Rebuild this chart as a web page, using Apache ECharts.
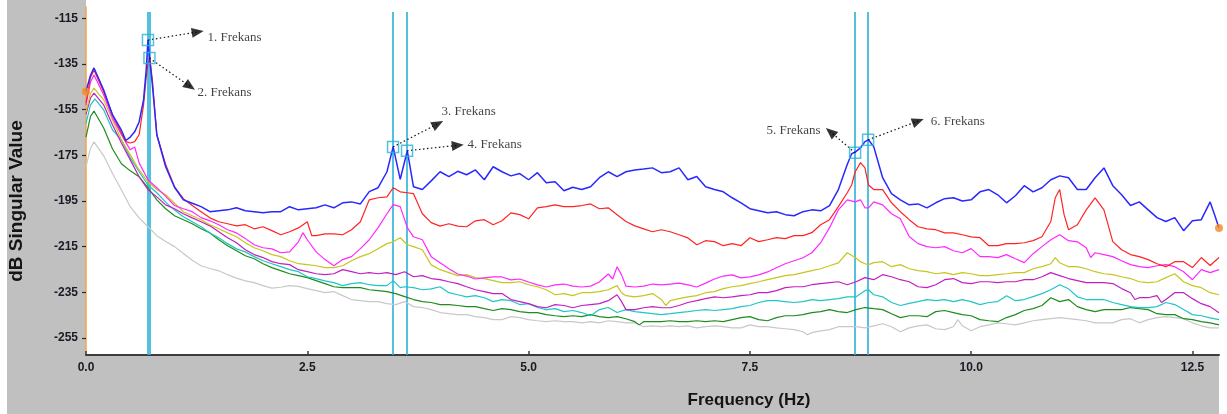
<!DOCTYPE html>
<html><head><meta charset="utf-8">
<script src="https://cdn.jsdelivr.net/npm/echarts@6/dist/echarts.min.js"></script>
<style>html,body{margin:0;padding:0;background:#fff}#c{width:1227px;height:414px}</style>
</head><body><div id="c"></div>
<script>
// ---------- DATA ----------
const xTicks = [0, 2.5, 5, 7.5, 10, 12.5];
const yTicks = [-255, -235, -215, -195, -175, -155, -135, -115];
const modeLabels = ['1. Frekans', '2. Frekans', '3. Frekans', '4. Frekans', '5. Frekans', '6. Frekans'];
const modeFreqs = [0.700, 0.717, 3.469, 3.627, 8.689, 8.836];
const modePeakDb = [-124.5, -132.4, -171.3, -173.0, -173.9, -168.2];

const blue = [[0,-147],[0.05,-140],[0.09,-136.7],[0.2,-146.4],[0.3,-157.3],[0.4,-164],[0.45,-168.5],[0.5,-167],[0.55,-164.7],[0.6,-160.4],[0.65,-150.7],[0.68,-137.6],[0.7,-124.5],[0.72,-133],[0.75,-144.2],[0.8,-166],[0.9,-180],[1.0,-189],[1.1,-194.5],[1.2,-196],[1.3,-197.5],[1.4,-199.7],[1.5,-199.3],[1.6,-198.9],[1.7,-198],[1.8,-199.3],[1.9,-199.7],[2.0,-200.2],[2.1,-199.7],[2.2,-199.7],[2.3,-197.5],[2.4,-198.9],[2.5,-198.4],[2.6,-198],[2.7,-196.7],[2.8,-198],[2.9,-195.8],[3.0,-195.4],[3.1,-196.3],[3.2,-190.9],[3.3,-189.2],[3.4,-182.2],[3.47,-171.3],[3.55,-185.5],[3.63,-173],[3.7,-188.8],[3.8,-190],[3.9,-186.2],[4.0,-182.2],[4.1,-184.3],[4.2,-182],[4.3,-183.5],[4.4,-181.4],[4.5,-185.7],[4.6,-180],[4.7,-182.2],[4.8,-184],[4.9,-183],[5.0,-185.7],[5.1,-182.6],[5.2,-187],[5.3,-186.6],[5.4,-190.5],[5.5,-189],[5.6,-190],[5.7,-188.8],[5.8,-184.8],[5.9,-182.2],[6.0,-184.3],[6.1,-182.2],[6.2,-181.4],[6.3,-181],[6.4,-180.5],[6.5,-182.6],[6.6,-182.2],[6.7,-180.5],[6.8,-185.7],[6.9,-184.3],[7.0,-188.8],[7.1,-190],[7.2,-191],[7.3,-193.6],[7.4,-195.8],[7.5,-198.4],[7.6,-199.3],[7.7,-200.2],[7.8,-199.7],[7.9,-201],[8.0,-201.5],[8.1,-199.7],[8.2,-198.9],[8.3,-199.3],[8.4,-197],[8.5,-190],[8.6,-179],[8.65,-174.3],[8.69,-173.6],[8.75,-171.7],[8.8,-169],[8.84,-168.2],[8.9,-171.3],[9.0,-184.8],[9.1,-191.8],[9.2,-194.5],[9.3,-196.7],[9.4,-196.3],[9.5,-198],[9.6,-195.8],[9.7,-194],[9.8,-193.6],[9.9,-195],[10.0,-194.5],[10.1,-191],[10.2,-190],[10.3,-192.3],[10.4,-195.8],[10.5,-192.7],[10.6,-188.3],[10.7,-191],[10.8,-189.2],[10.9,-185.7],[11.0,-184],[11.1,-184.8],[11.2,-190],[11.3,-190],[11.4,-184.8],[11.5,-180.5],[11.6,-188.3],[11.7,-192.3],[11.8,-197],[11.9,-195.4],[12.0,-198.9],[12.1,-202.3],[12.2,-204],[12.3,-202.3],[12.4,-208],[12.5,-203.7],[12.6,-203.2],[12.7,-195.4],[12.75,-201],[12.8,-206.8]];

const red = [[0,-152],[0.05,-141],[0.09,-137.6],[0.2,-147.3],[0.3,-157.3],[0.4,-165.2],[0.45,-169],[0.5,-169.6],[0.55,-169],[0.6,-166],[0.65,-153],[0.68,-141],[0.7,-135],[0.72,-132],[0.75,-142],[0.8,-166],[0.9,-179],[1.0,-188.8],[1.1,-194],[1.2,-197],[1.3,-199.7],[1.4,-202.4],[1.5,-204.1],[1.6,-205],[1.7,-205.9],[1.8,-205.4],[1.9,-207.2],[2.0,-206.3],[2.1,-208],[2.2,-209.8],[2.3,-208.5],[2.4,-206.8],[2.5,-204.1],[2.55,-210.2],[2.6,-210.2],[2.7,-209.4],[2.8,-209.4],[2.9,-209.8],[3.0,-207.6],[3.1,-204.1],[3.2,-194.5],[3.3,-193.6],[3.4,-193.2],[3.47,-189.2],[3.55,-191],[3.63,-191.4],[3.7,-191.8],[3.8,-200.6],[3.9,-204.5],[4.0,-206],[4.1,-205],[4.2,-206],[4.3,-206.3],[4.4,-203.7],[4.5,-203.2],[4.6,-205.4],[4.7,-203.7],[4.8,-200.2],[4.9,-201],[5.0,-202.8],[5.1,-198],[5.2,-197.5],[5.3,-196.7],[5.4,-197.5],[5.5,-197.5],[5.6,-197],[5.7,-196.3],[5.8,-198.4],[5.9,-198],[6.0,-201],[6.1,-204],[6.2,-205.9],[6.3,-207.2],[6.4,-208.5],[6.5,-207.6],[6.6,-208.5],[6.7,-209.8],[6.8,-211.2],[6.9,-214.2],[7.0,-212.4],[7.1,-212.8],[7.2,-214.6],[7.3,-213.7],[7.4,-214.6],[7.5,-211.1],[7.6,-212.8],[7.7,-212],[7.8,-211.1],[7.9,-211.5],[8.0,-210.2],[8.1,-210.2],[8.2,-208.9],[8.3,-205.4],[8.4,-203.2],[8.5,-197.5],[8.6,-191.4],[8.65,-188],[8.69,-182.2],[8.75,-178.2],[8.8,-180.5],[8.84,-188],[8.9,-190],[9.0,-190],[9.1,-195.8],[9.2,-199.7],[9.3,-203.2],[9.4,-206.3],[9.5,-207.2],[9.6,-207.6],[9.7,-209],[9.8,-209],[9.9,-209.8],[10.0,-210.7],[10.1,-211.1],[10.2,-214.6],[10.3,-214.6],[10.4,-213.7],[10.5,-213.7],[10.6,-213.3],[10.7,-212.4],[10.8,-210.7],[10.9,-204],[10.95,-193.6],[11.0,-190],[11.05,-201],[11.1,-207.6],[11.2,-205.4],[11.3,-198.9],[11.4,-193.6],[11.5,-198.9],[11.6,-212.8],[11.7,-216.4],[11.8,-218.5],[11.9,-219.4],[12.0,-220.7],[12.1,-222.5],[12.2,-223.8],[12.3,-221.6],[12.4,-221.6],[12.5,-224.2],[12.6,-219.8],[12.7,-223.3],[12.8,-219.8]];

const magenta = [[0,-153],[0.05,-143],[0.09,-139.8],[0.2,-148.6],[0.3,-158.6],[0.4,-166],[0.5,-172.6],[0.55,-171.3],[0.6,-178.3],[0.7,-185.7],[0.8,-189.2],[0.9,-193],[1.0,-197],[1.1,-198.4],[1.2,-199.7],[1.3,-202.3],[1.4,-203.7],[1.5,-205.4],[1.6,-207.6],[1.7,-209],[1.8,-211.5],[1.9,-214.2],[2.0,-215.5],[2.1,-216],[2.2,-217.7],[2.3,-217.3],[2.4,-212.9],[2.45,-208.9],[2.5,-212],[2.6,-217.3],[2.7,-220.7],[2.8,-223.4],[2.9,-220.7],[3.0,-219.4],[3.1,-215.9],[3.2,-212],[3.3,-206.7],[3.4,-200.6],[3.47,-196.6],[3.55,-197.5],[3.63,-206.7],[3.7,-210.7],[3.8,-212],[3.9,-219.4],[4.0,-222.1],[4.1,-224.7],[4.2,-227],[4.3,-227.9],[4.4,-229.2],[4.5,-228.7],[4.6,-228.3],[4.7,-228.3],[4.8,-229.6],[4.9,-229.2],[5.0,-230.5],[5.1,-231.8],[5.2,-232.7],[5.3,-231.8],[5.4,-231.4],[5.5,-232.3],[5.6,-232.7],[5.7,-232.3],[5.8,-230.5],[5.9,-227],[5.95,-229.2],[6.0,-223.8],[6.05,-227.4],[6.1,-232.3],[6.2,-232.7],[6.3,-232.3],[6.4,-231.4],[6.5,-231.8],[6.6,-231.4],[6.7,-231],[6.8,-231.8],[6.9,-232.7],[7.0,-231],[7.1,-229.2],[7.2,-227.9],[7.3,-227.4],[7.4,-228.7],[7.5,-228.3],[7.6,-227.4],[7.7,-226.1],[7.8,-224.3],[7.9,-222.5],[8.0,-221.2],[8.1,-219.9],[8.2,-217.7],[8.3,-213.3],[8.4,-206.7],[8.5,-198.9],[8.6,-194.5],[8.69,-195.4],[8.75,-194.5],[8.8,-198],[8.84,-198],[8.9,-195.4],[9.0,-196.7],[9.1,-200.6],[9.2,-202.8],[9.3,-210.6],[9.4,-213.7],[9.5,-215],[9.6,-215.5],[9.7,-215],[9.8,-216.8],[9.9,-217.7],[10.0,-215.9],[10.1,-219.4],[10.2,-219.4],[10.3,-219.8],[10.4,-218.5],[10.5,-220.3],[10.6,-222],[10.7,-218.1],[10.8,-215],[10.9,-212],[11.0,-209.8],[11.1,-212.4],[11.2,-212.9],[11.3,-215.5],[11.35,-219.8],[11.4,-217.7],[11.5,-218.5],[11.6,-219.4],[11.7,-221.2],[11.8,-222.9],[11.9,-223.8],[12.0,-224.2],[12.1,-223.4],[12.2,-222.9],[12.3,-223.8],[12.4,-226],[12.5,-229.5],[12.6,-225.1],[12.7,-226.4],[12.8,-225.1]];

const yellow = [[0,-156],[0.05,-148],[0.09,-145.5],[0.2,-150.7],[0.3,-159.5],[0.4,-168.2],[0.5,-174.8],[0.6,-181.4],[0.7,-186.6],[0.8,-190],[0.9,-192.3],[1.0,-196],[1.1,-199.7],[1.2,-201.5],[1.3,-203.2],[1.4,-205.4],[1.5,-207.2],[1.6,-209],[1.7,-210.7],[1.8,-213.3],[1.9,-215.5],[2.0,-216.8],[2.1,-218.5],[2.2,-219.4],[2.3,-221.2],[2.4,-222.5],[2.5,-222.9],[2.6,-223.4],[2.7,-224.2],[2.8,-224.2],[2.9,-223.4],[3.0,-221.2],[3.1,-219.4],[3.2,-218.1],[3.3,-215.9],[3.4,-213.7],[3.47,-212.9],[3.55,-211.1],[3.63,-214.2],[3.7,-215],[3.8,-216.4],[3.9,-223],[4.0,-225.1],[4.1,-226.4],[4.2,-227.7],[4.3,-227.3],[4.4,-228.6],[4.5,-229],[4.6,-229.9],[4.7,-230.8],[4.8,-230.8],[4.9,-230.4],[5.0,-231.7],[5.1,-232.6],[5.2,-233.9],[5.3,-236.1],[5.4,-235.6],[5.5,-236.5],[5.6,-235.2],[5.7,-235.2],[5.8,-234.7],[5.9,-233.9],[6.0,-232.1],[6.05,-235.2],[6.1,-236.5],[6.2,-237],[6.3,-236.5],[6.4,-235.6],[6.5,-238.2],[6.55,-240.8],[6.6,-238.7],[6.7,-237.8],[6.8,-237],[6.9,-236.5],[7.0,-235.2],[7.1,-234.7],[7.2,-233.4],[7.3,-232.6],[7.4,-232.1],[7.5,-231.2],[7.6,-230.4],[7.7,-229.5],[7.8,-228.6],[7.9,-227.7],[8.0,-227.3],[8.1,-226.4],[8.2,-225.5],[8.3,-224.7],[8.4,-223.4],[8.5,-222.1],[8.6,-217.7],[8.69,-219.8],[8.75,-221.6],[8.8,-222.5],[8.84,-222.9],[8.9,-222],[9.0,-221.6],[9.1,-223.8],[9.2,-222.9],[9.3,-224.7],[9.4,-225.5],[9.5,-226],[9.6,-226.9],[9.7,-226.4],[9.8,-227.3],[9.9,-226.4],[10.0,-226.9],[10.1,-227.7],[10.2,-227.7],[10.3,-227.3],[10.4,-226.9],[10.5,-226.4],[10.6,-226.4],[10.7,-224.7],[10.8,-223.8],[10.9,-222.5],[10.95,-219.8],[11.0,-222.1],[11.1,-223.8],[11.2,-223.8],[11.3,-224.7],[11.4,-226],[11.5,-226.9],[11.6,-227.3],[11.7,-228.2],[11.8,-229],[11.9,-230.4],[12.0,-230.8],[12.1,-230.4],[12.2,-228.6],[12.3,-226.9],[12.4,-230.4],[12.5,-232.1],[12.6,-233],[12.7,-235.2],[12.8,-236.1]];

const purple = [[0,-157],[0.05,-150],[0.09,-147.7],[0.2,-152.9],[0.3,-161.7],[0.4,-169.6],[0.5,-177],[0.6,-184.4],[0.7,-190.1],[0.8,-193.2],[0.9,-196.7],[1.0,-198.4],[1.1,-200.6],[1.2,-202.4],[1.3,-204.1],[1.4,-205.9],[1.5,-208.5],[1.6,-211.1],[1.7,-213.3],[1.8,-216.4],[1.9,-218.5],[2.0,-219.8],[2.1,-221.6],[2.2,-222.5],[2.3,-222.9],[2.4,-225.1],[2.5,-226],[2.6,-226.9],[2.7,-227.3],[2.8,-226.9],[2.9,-225.1],[3.0,-226],[3.1,-226.9],[3.2,-226.4],[3.3,-226.9],[3.4,-226.4],[3.5,-227.3],[3.6,-226],[3.7,-228.2],[3.8,-227.7],[3.9,-229],[4.0,-229.5],[4.1,-230.4],[4.2,-231.2],[4.3,-232.6],[4.4,-233.9],[4.5,-234.7],[4.6,-235.6],[4.7,-235.6],[4.8,-238.2],[4.9,-239.1],[5.0,-240],[5.1,-241.3],[5.2,-241.8],[5.3,-240.4],[5.4,-240.8],[5.5,-241.8],[5.6,-240.8],[5.7,-240.4],[5.8,-240],[5.9,-238.7],[6.0,-236.1],[6.05,-239.1],[6.1,-242.6],[6.2,-242.6],[6.3,-241.8],[6.4,-241.3],[6.5,-241.8],[6.6,-241.8],[6.7,-240.8],[6.8,-239.5],[6.9,-238.7],[7.0,-237.8],[7.1,-237],[7.2,-237.4],[7.3,-237],[7.4,-236.5],[7.5,-236.1],[7.6,-235.2],[7.7,-235.2],[7.8,-234.3],[7.9,-233],[8.0,-232.6],[8.1,-232.6],[8.2,-231.7],[8.3,-231.2],[8.4,-230.8],[8.5,-230.4],[8.6,-231.7],[8.7,-230.4],[8.8,-228.6],[8.9,-229.5],[9.0,-227.3],[9.1,-228.2],[9.2,-229.5],[9.3,-230.4],[9.4,-232.6],[9.5,-233],[9.6,-231.7],[9.7,-229.5],[9.8,-229],[9.9,-230.8],[10.0,-231.2],[10.1,-230.4],[10.2,-230.4],[10.3,-230.8],[10.4,-230.4],[10.5,-230.4],[10.6,-229.5],[10.7,-229.5],[10.8,-228.2],[10.9,-226.4],[11.0,-227.7],[11.1,-229],[11.2,-229.9],[11.3,-230.8],[11.4,-230.8],[11.5,-230.8],[11.6,-231.2],[11.7,-233.4],[11.8,-235.2],[11.85,-238.2],[11.9,-237.4],[12.0,-237.4],[12.1,-236.5],[12.15,-239.5],[12.2,-238.2],[12.3,-235.2],[12.4,-235.2],[12.5,-237.8],[12.6,-240],[12.7,-241.3],[12.8,-244]];

const cyan = [[0,-161],[0.05,-153],[0.1,-150.3],[0.2,-155.1],[0.3,-163.9],[0.4,-168.2],[0.5,-176],[0.6,-182.2],[0.7,-188],[0.8,-191.4],[0.9,-195.5],[1.0,-199],[1.1,-201.9],[1.2,-204.1],[1.3,-206.3],[1.4,-209],[1.5,-211.1],[1.6,-213.7],[1.7,-216],[1.8,-217.3],[1.9,-219.4],[2.0,-221.2],[2.1,-222.5],[2.2,-223.8],[2.3,-225.1],[2.4,-226],[2.5,-228.2],[2.6,-229],[2.7,-230],[2.8,-230.8],[2.9,-232.1],[3.0,-231.2],[3.1,-230.8],[3.2,-231.7],[3.3,-232.1],[3.4,-232.1],[3.47,-229.9],[3.55,-233],[3.6,-232.6],[3.7,-233],[3.8,-233.9],[3.9,-233.5],[4.0,-232.6],[4.1,-235.2],[4.2,-236.1],[4.3,-237],[4.4,-236.5],[4.5,-237.4],[4.6,-239.1],[4.7,-238.2],[4.8,-238.7],[4.9,-240.4],[5.0,-240],[5.1,-241.7],[5.2,-242.6],[5.3,-242.2],[5.4,-243.5],[5.5,-243],[5.6,-243.9],[5.7,-245.3],[5.8,-242.6],[5.9,-241.7],[6.0,-243.9],[6.1,-242.6],[6.2,-243.5],[6.3,-243.9],[6.4,-244.4],[6.5,-244.8],[6.6,-244.4],[6.7,-243.9],[6.8,-243.5],[6.9,-243],[7.0,-242.6],[7.1,-243],[7.2,-242.6],[7.3,-242.2],[7.4,-241.3],[7.5,-240.8],[7.6,-239.5],[7.7,-238.7],[7.8,-238.7],[7.9,-239.1],[8.0,-239.5],[8.1,-239.1],[8.2,-238.2],[8.3,-238.7],[8.4,-238.2],[8.5,-237.8],[8.6,-237],[8.7,-237],[8.8,-234.3],[8.84,-233.9],[8.9,-236.1],[9.0,-237],[9.1,-239.5],[9.2,-240.8],[9.3,-239.9],[9.4,-239.1],[9.5,-238.2],[9.6,-238.7],[9.7,-238.2],[9.8,-239.1],[9.9,-238.2],[10.0,-239.1],[10.1,-240.4],[10.2,-239.5],[10.3,-239.1],[10.4,-236.5],[10.5,-238.7],[10.6,-238.2],[10.7,-236.9],[10.8,-235.6],[10.9,-233.9],[11.0,-231.7],[11.1,-233.5],[11.2,-237],[11.3,-238.2],[11.4,-238.2],[11.5,-238.2],[11.6,-239.5],[11.7,-240.4],[11.8,-241.3],[11.9,-241.7],[12.0,-241.7],[12.1,-241.3],[12.2,-239.5],[12.3,-240.4],[12.4,-242.6],[12.5,-244.8],[12.6,-245.3],[12.7,-246.2],[12.8,-247]];

const green = [[0,-167],[0.05,-158],[0.09,-155.6],[0.2,-163],[0.3,-172.2],[0.4,-178.7],[0.5,-181.8],[0.6,-184.4],[0.7,-189.2],[0.8,-194.5],[0.9,-198.4],[1.0,-201.5],[1.1,-203.2],[1.2,-205],[1.3,-207.2],[1.4,-209],[1.5,-212],[1.6,-214.6],[1.7,-216.8],[1.8,-219],[1.9,-220.3],[2.0,-222.5],[2.1,-224.2],[2.2,-225.5],[2.3,-226.9],[2.4,-227.7],[2.5,-228.6],[2.6,-229.9],[2.7,-231.2],[2.8,-232.6],[2.9,-233],[3.0,-233],[3.1,-233],[3.2,-233.9],[3.3,-234.3],[3.4,-234.7],[3.5,-235.6],[3.6,-236.9],[3.7,-238.2],[3.8,-239.1],[3.9,-239.5],[4.0,-240.4],[4.1,-240.4],[4.2,-240.8],[4.3,-241.3],[4.4,-241.3],[4.5,-242.2],[4.6,-243],[4.7,-242.2],[4.8,-242.6],[4.9,-243.5],[5.0,-243.9],[5.1,-243.9],[5.2,-244.8],[5.3,-245.3],[5.4,-245.7],[5.5,-245.3],[5.6,-245.7],[5.7,-244.8],[5.8,-245.7],[5.9,-246.1],[6.0,-245.7],[6.1,-246.6],[6.2,-247.9],[6.25,-249.3],[6.3,-247.9],[6.4,-247.9],[6.5,-247.9],[6.6,-247.5],[6.7,-247.9],[6.8,-247.9],[6.9,-247.5],[7.0,-247.9],[7.1,-247.5],[7.2,-247.9],[7.3,-247],[7.4,-246.1],[7.5,-245.7],[7.6,-247],[7.7,-247.5],[7.8,-246.1],[7.9,-245.3],[8.0,-245.3],[8.1,-244.8],[8.2,-243.9],[8.3,-243.5],[8.4,-242.6],[8.5,-243.5],[8.6,-243.9],[8.7,-242.6],[8.8,-241.7],[8.9,-242.2],[9.0,-242.6],[9.1,-244.4],[9.2,-246.1],[9.3,-245.3],[9.4,-245.3],[9.5,-245.7],[9.6,-243.5],[9.7,-243],[9.8,-243.9],[9.9,-244.8],[10.0,-245.3],[10.1,-247],[10.2,-247.5],[10.3,-247.9],[10.4,-246.1],[10.5,-244.8],[10.6,-243],[10.7,-242.2],[10.8,-240.8],[10.9,-237.4],[11.0,-239.1],[11.1,-238.2],[11.2,-241.3],[11.3,-242.6],[11.4,-243.5],[11.5,-242.6],[11.6,-242.6],[11.7,-242.6],[11.8,-241.7],[11.9,-242.2],[12.0,-242.6],[12.1,-244.4],[12.2,-244.8],[12.3,-244.8],[12.4,-246.6],[12.5,-247],[12.6,-247.9],[12.7,-248.4],[12.8,-249.3]];

const gray = [[0,-180],[0.05,-172],[0.09,-169.1],[0.2,-175.2],[0.3,-183],[0.4,-190.1],[0.5,-197.5],[0.6,-202.4],[0.7,-206.3],[0.8,-210.2],[0.9,-212.8],[1.0,-215],[1.1,-218],[1.2,-221],[1.3,-223.4],[1.4,-224.6],[1.5,-225.6],[1.6,-227.3],[1.7,-228.8],[1.8,-230],[1.9,-230.8],[2.0,-232.1],[2.1,-233.2],[2.2,-232.8],[2.3,-232.1],[2.4,-232.4],[2.5,-233.4],[2.6,-234.3],[2.7,-235.2],[2.8,-234.7],[2.9,-236.5],[3.0,-238.2],[3.1,-238.7],[3.2,-239.1],[3.3,-239.1],[3.4,-240],[3.5,-240.4],[3.6,-239.1],[3.7,-241.3],[3.8,-241.7],[3.9,-242.6],[4.0,-243.9],[4.1,-244.4],[4.2,-244.8],[4.3,-244.8],[4.4,-245.7],[4.5,-246.1],[4.6,-247],[4.7,-247],[4.8,-245.7],[4.9,-246.1],[5.0,-247],[5.1,-247.5],[5.2,-247.9],[5.3,-247.5],[5.4,-247.9],[5.5,-247.9],[5.6,-248.4],[5.7,-247.9],[5.8,-248.4],[5.9,-247.5],[6.0,-247.9],[6.1,-248.4],[6.2,-248.4],[6.3,-250.1],[6.4,-249.7],[6.5,-250.1],[6.6,-249.7],[6.7,-250.1],[6.8,-249.7],[6.9,-250.6],[7.0,-250.1],[7.1,-249.7],[7.2,-250.1],[7.3,-250.6],[7.4,-250.6],[7.5,-249.3],[7.6,-250.1],[7.7,-250.1],[7.8,-250.6],[7.9,-251],[8.0,-251.4],[8.1,-252.3],[8.15,-253.6],[8.2,-252.7],[8.3,-251.9],[8.4,-251.4],[8.5,-250.1],[8.6,-250.1],[8.7,-250.1],[8.8,-250.6],[8.9,-249.7],[9.0,-248.8],[9.1,-250.1],[9.2,-252.3],[9.3,-250.6],[9.4,-249.7],[9.5,-249.3],[9.6,-251],[9.7,-251.4],[9.8,-250.1],[9.85,-247],[9.9,-249.7],[10.0,-251.9],[10.1,-250.1],[10.2,-249.3],[10.3,-248.4],[10.4,-248.8],[10.5,-249.3],[10.6,-248.4],[10.7,-247.5],[10.8,-247],[10.9,-246.6],[11.0,-246.1],[11.1,-246.6],[11.2,-247],[11.3,-247.5],[11.4,-248.4],[11.5,-248.4],[11.6,-248.4],[11.7,-247],[11.8,-246.6],[11.9,-248.4],[12.0,-247],[12.1,-246.1],[12.2,-245.7],[12.3,-246.1],[12.4,-246.6],[12.5,-248.4],[12.6,-249.7],[12.7,-250.6],[12.8,-250.6]];

// ---------- LAYOUT / ANNOTATIONS (positions in data units) ----------
const Y_MIN = -262.5, Y_MAX = -110, X_MIN = 0, X_MAX = 12.8;
const MODE_LINE_TOP = -112.2;
const annHead = [[1.262,-120.9],[1.175,-144.8],[3.975,-161.2],[4.2,-170.6],[8.41,-164.7],[9.40,-160.0]];
const annText = [[1.367,-123.6],[1.254,-147.7],[4.011,-156],[4.305,-170.4],[8.305,-164.3],[9.537,-160.4]];
const annSide = ['right','right','right','right','left','right'];

const FONT = '"Liberation Sans", Arial, Helvetica, sans-serif';
const SERIF = '"Liberation Serif", "Times New Roman", serif';
const MODE_COLOR = '#2ab2d6';

function lineSeries(name, data, color, width) {
  return {
    name, type: 'line', data, showSymbol: false, symbol: 'none',
    lineStyle: { color, width }, itemStyle: { color }, silent: true, z: 3
  };
}

const peaks = modeFreqs.map((f, i) => [f, modePeakDb[i]]);

const option = {
  animation: false,
  backgroundColor: '#c0c0c0',
  graphic: [
    { type: 'rect', shape: { x: 0, y: 0, width: 7, height: 414 }, style: { fill: '#fff' }, z: -10 },
    { type: 'rect', shape: { x: 1219, y: 0, width: 8, height: 414 }, style: { fill: '#fff' }, z: -10 },
    { type: 'rect', shape: { x: 86, y: 0, width: 1133, height: 8 }, style: { fill: '#fff' }, z: -10 },
    { type: 'text', x: 17, y: 201, rotation: Math.PI / 2,
      style: { text: 'dB Singular Value', font: 'bold 19px ' + FONT, fill: '#141414', textAlign: 'center', textVerticalAlign: 'middle' } },
    { type: 'text', x: 749, y: 400,
      style: { text: 'Frequency (Hz)', font: 'bold 17px ' + FONT, fill: '#141414', textAlign: 'center', textVerticalAlign: 'middle' } }
  ],
  grid: { left: 86, right: 8, top: 7, bottom: 59, show: true, backgroundColor: '#fff', borderWidth: 0 },
  xAxis: {
    type: 'value', min: X_MIN, max: X_MAX,
    axisLine: { show: true, onZero: false, lineStyle: { color: '#3c3c3c', width: 2 } },
    axisTick: { show: true, inside: true, length: 4, customValues: xTicks, lineStyle: { color: '#3c3c3c', width: 1.5 } },
    axisLabel: { customValues: xTicks, formatter: v => Number(v).toFixed(1), fontFamily: FONT, fontWeight: 'bold', fontSize: 12, color: '#1a1a24', margin: 7 },
    splitLine: { show: false }
  },
  yAxis: {
    type: 'value', min: Y_MIN, max: Y_MAX,
    axisLine: { show: true, onZero: false, lineStyle: { color: '#f4a44a', width: 1.5 } },
    axisTick: { show: true, inside: false, length: 4, customValues: yTicks, lineStyle: { color: '#2a2a2a', width: 1.2 } },
    axisLabel: { customValues: yTicks, formatter: v => String(Math.round(v)), fontFamily: FONT, fontWeight: 'bold', fontSize: 12, color: '#1a1a24', margin: 8 },
    splitLine: { show: false }
  },
  series: [
    lineSeries('Singular value 8', gray, '#c8c8c8', 1.2),
    lineSeries('Singular value 7', green, '#1e8c1e', 1.2),
    lineSeries('Singular value 6', cyan, '#1ec6c6', 1.2),
    lineSeries('Singular value 5', purple, '#c21ec2', 1.2),
    lineSeries('Singular value 4', yellow, '#c6c61e', 1.2),
    lineSeries('Singular value 3', magenta, '#ff28ff', 1.2),
    lineSeries('Singular value 2', red, '#ff2424', 1.2),
    lineSeries('Singular value 1', blue, '#2828ff', 1.5),
    {
      name: 'Modes', type: 'scatter', data: peaks, symbol: 'rect', symbolSize: 11, silent: true, z: 6,
      itemStyle: { color: 'rgba(0,0,0,0)', borderColor: MODE_COLOR, borderWidth: 1.5 },
      markLine: {
        silent: true, symbol: ['none', 'none'], label: { show: false }, z: 2,
        lineStyle: { color: MODE_COLOR, width: 1.6, type: 'solid' },
        data: modeFreqs.map(f => [{ coord: [f, MODE_LINE_TOP] }, { coord: [f, Y_MIN] }])
      }
    },
    {
      name: 'Labels', type: 'scatter', silent: true, symbolSize: 1, z: 7, clip: false,
      itemStyle: { color: 'rgba(0,0,0,0)' },
      data: modeLabels.map((t, i) => ({
        value: annText[i], name: t,
        label: { show: true, position: annSide[i], distance: 0, formatter: t,
                 fontFamily: SERIF, fontSize: 13, color: '#111' }
      })),
      markLine: {
        silent: true, symbol: ['none', 'none'], label: { show: false },
        lineStyle: { color: '#111', width: 1.2, type: [1.5, 2.5] },
        data: peaks.map((p, i) => [{ coord: p }, { coord: annHead[i] }])
      }
    },
    {
      id: 'heads', name: 'Arrow heads', type: 'scatter', silent: true, clip: false, z: 8,
      symbol: 'triangle', symbolSize: [10, 12], itemStyle: { color: '#000' },
      data: annHead
    },
    {
      name: 'Ends', type: 'scatter', silent: true, clip: false, z: 8, symbolSize: 8,
      itemStyle: { color: '#f58a22' },
      data: [blue[0], blue[blue.length - 1]]
    }
  ]
};

const chart = echarts.init(document.getElementById('c'), null, { renderer: 'canvas' });
chart.setOption(option);
// orient the arrow heads along each dotted leader line (screen-space direction)
const headItems = annHead.map((h, i) => {
  const a = chart.convertToPixel({ gridIndex: 0 }, peaks[i]);
  const b = chart.convertToPixel({ gridIndex: 0 }, h);
  const ang = (-Math.PI / 2 - Math.atan2(b[1] - a[1], b[0] - a[0])) * 180 / Math.PI;
  return { value: h, symbolRotate: ang };
});
chart.setOption({ series: [{ id: 'heads', data: headItems }] });
</script>
</body></html>
